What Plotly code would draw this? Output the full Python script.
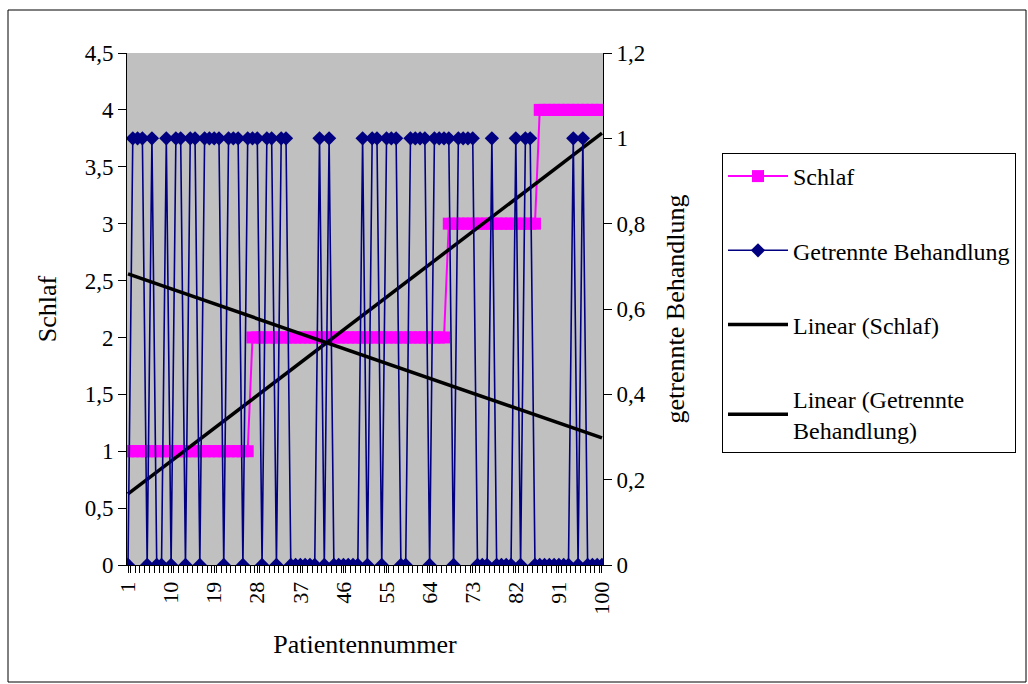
import numpy as np
import plotly.graph_objects as go

patients = list(range(1, 101))
# Schlaf per patient
schlaf = [1]*26 + [2]*41 + [3]*19 + [4]*14
# Getrennte Behandlung (0/1) per patient: patients with value 1
ones = [2, 3, 4, 6, 9, 11, 12, 14, 15, 17, 18, 19, 20, 22, 23, 24, 26, 27, 28,
        30, 31, 33, 34,
        41, 43,
        50, 52, 53, 55, 56, 57, 60, 61, 62, 63, 65, 66, 67, 68, 70, 71, 72, 73,
        77, 82, 84, 85, 94, 96]
getrennt = [1 if p in ones else 0 for p in patients]
x_ticklabels = [1, 10, 19, 28, 37, 46, 55, 64, 73, 82, 91, 100]

xa = np.array(patients, dtype=float)
c1 = np.polyfit(xa, np.array(schlaf, dtype=float), 1)
c2 = np.polyfit(xa, np.array(getrennt, dtype=float), 1)
trend_x = [1, 100]
trend_s = [float(np.polyval(c1, v)) for v in trend_x]
trend_g = [float(np.polyval(c2, v)) for v in trend_x]

FONT = "Liberation Serif, Times New Roman, serif"
PINK = "#FF00FF"
NAVY = "#000080"

fig = go.Figure()
fig.add_trace(go.Scatter(x=patients, y=schlaf, name="Schlaf", mode="lines+markers",
                         line=dict(color=PINK, width=2),
                         marker=dict(symbol="square", size=12, color=PINK),
                         legendrank=1, legendgroup="a"))
fig.add_trace(go.Scatter(x=trend_x, y=trend_s, name="Linear (Schlaf)", mode="lines",
                         line=dict(color="black", width=3.5),
                         legendrank=3, legendgroup="c"))
fig.add_trace(go.Scatter(x=patients, y=getrennt, name="Getrennte Behandlung",
                         mode="lines+markers", yaxis="y2",
                         line=dict(color=NAVY, width=1.6),
                         marker=dict(symbol="diamond", size=11, color=NAVY),
                         legendrank=2, legendgroup="b"))
fig.add_trace(go.Scatter(x=trend_x, y=trend_g, name="Linear (Getrennte<br>Behandlung)",
                         mode="lines", yaxis="y2",
                         line=dict(color="black", width=3.5),
                         legendrank=4, legendgroup="d"))

L, T, R, B = 127, 53, 603, 565
W, H = 1028, 684
pw, ph = R - L, B - T

def px(xp):
    return (xp - L) / pw

def py(yp):
    return (B - yp) / ph

fig.update_layout(
    width=W, height=H,
    margin=dict(l=L, r=W - R, t=T, b=H - B),
    paper_bgcolor="white", plot_bgcolor="#C0C0C0",
    separators=",.",
    font=dict(family=FONT, size=22, color="black"),
    showlegend=True,
    legend=dict(x=px(722), y=py(153), xanchor="left", yanchor="top",
                bordercolor="black", borderwidth=1, bgcolor="white",
                font=dict(size=24), itemwidth=60, tracegroupgap=40,
                traceorder="grouped"),
    xaxis=dict(range=[0.79, 100.21], tickmode="array", tickvals=x_ticklabels,
               ticktext=[str(v) for v in x_ticklabels], tickangle=-90,
               showgrid=False, zeroline=False, showline=True, linecolor="black",
               linewidth=1, ticks="outside", ticklen=7, tickcolor="black",
               minor=dict(tick0=0.5, dtick=1, ticks="outside", ticklen=7,
                          tickcolor="black", showgrid=False),
               title=dict(text="Patientennummer", standoff=21)),
    yaxis=dict(range=[0, 4.5], dtick=0.5, showgrid=False, zeroline=False,
               showline=True, linecolor="black", linewidth=1, ticks="outside",
               ticklen=8, tickcolor="black", tickfont=dict(size=23),
               title=dict(text="Schlaf", standoff=20)),
    yaxis2=dict(range=[0, 1.2], dtick=0.2, overlaying="y", side="right",
                showgrid=False, zeroline=False, showline=True, linecolor="black",
                linewidth=1, ticks="outside", ticklen=8, tickcolor="black",
                tickfont=dict(size=23),
                title=dict(text="getrennte Behandlung", standoff=20)),
    shapes=[dict(type="rect", xref="paper", yref="paper",
                 x0=px(8), x1=px(1026), y0=py(682), y1=py(10),
                 line=dict(color="black", width=1), fillcolor="rgba(0,0,0,0)",
                 layer="below")],
)

fig.write_html("out.html")
